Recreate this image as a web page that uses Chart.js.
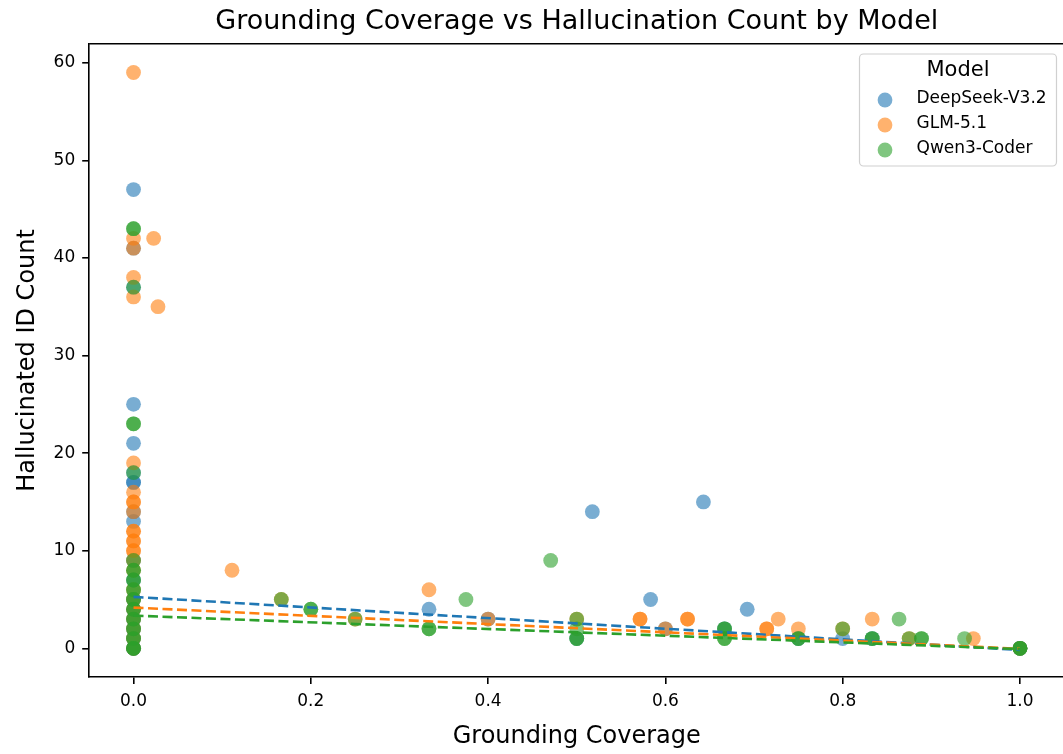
<!DOCTYPE html>
<html><head><meta charset="utf-8">
<script src="https://cdn.jsdelivr.net/npm/chart.js@4.4.1/dist/chart.umd.min.js"></script>
<style>
html,body{margin:0;padding:0;background:#fff;overflow:hidden;width:1063px;height:754px}
#wrap{position:absolute;left:0;top:0;width:1080px;height:754px}
</style>
</head><body>
<div id="wrap"><canvas id="c" width="1080" height="754"></canvas></div>
<script>
const chartTitle = 'Grounding Coverage vs Hallucination Count by Model';
const xAxisTitle = 'Grounding Coverage';
const yAxisTitle = 'Hallucinated ID Count';
const legendTitle = 'Model';
const modelNames = ['DeepSeek-V3.2', 'GLM-5.1', 'Qwen3-Coder'];
const xTickValues = [0, 0.2, 0.4, 0.6, 0.8, 1.0];
const yTickValues = [0, 10, 20, 30, 40, 50, 60];

// DeepSeek-V3.2
const deepseekX = [0,0,0,0,0,0,0,0,0,0,0,0,0,0,0,0,0,0,0,
  0.3333,0.4,0.5176,0.5833,0.6,0.6429,0.6923,0.8,1,1,0.6667,0.5,0.8333,0.75];
const deepseekY = [47,41,37,25,21,18,17,17,14,13,9,7,5,4,3,2,1,0,0,
  4,3,14,5,2,15,4,1,0,0,2,1,1,1];
// GLM-5.1
const glmX = [0,0,0,0,0,0,0,0,0,0,0,0,0,0,0,0,0,0,0,0,0,0,0,0,0,
  0.0227,0.0276,0.1111,0.1667,0.25,0.3333,0.4,0.5,0.5714,0.5714,0.6,0.625,0.625,0.7143,0.7143,0.7273,0.75,0.8,0.8333,0.875,0.9474,1];
const glmY = [59,42,41,38,36,19,16,15,15,14,12,12,11,11,10,10,9,8,6,5,4,3,2,1,0,
  42,35,8,5,3,6,3,3,3,3,2,3,3,2,2,3,2,2,3,1,1,0];
// Qwen3-Coder
const qwenX = [0,0,0,0,0,0,0,0,0,0,0,0,0,0,0,0,0,0,0,0,0,0,0,0,0,0,
  0.1667,0.2,0.2,0.25,0.3333,0.3333,0.375,0.4706,0.5,0.5,0.5,0.5,0.6667,0.6667,0.6667,0.6667,0.75,0.75,0.8,0.8333,0.8333,0.8636,0.875,0.8889,0.8889,0.9375,1,1,1];
const qwenY = [43,43,37,23,23,18,9,8,8,7,7,6,6,5,5,4,4,3,3,2,2,1,1,0,0,0,
  5,4,4,3,2,2,5,9,3,2,1,1,2,2,1,1,1,1,2,1,1,3,1,1,1,1,0,0,0];

// Trend lines (dashed), endpoints
const trendX = [0, 1];
const deepseekTrend = [5.27, -0.17];
const glmTrend = [4.17, -0.05];
const qwenTrend = [3.35, -0.08];

const solid = ['#1f77b4', '#ff7f0e', '#2ca02c'];
const faded = ['rgba(31,119,180,0.6)', 'rgba(255,127,14,0.6)', 'rgba(44,160,44,0.6)'];
const FONT = 'DejaVu Sans';

const pts = (xs, ys) => xs.map((x, i) => ({x: x, y: ys[i]}));

const scatterSet = (i, xs, ys, order) => ({
  type: 'scatter', label: modelNames[i], data: pts(xs, ys),
  backgroundColor: faded[i], borderWidth: 0, pointRadius: 7.4, pointHoverRadius: 7.4, order: order
});
const lineSet = (i, ys, order) => ({
  type: 'line', label: modelNames[i] + ' trend', data: pts(trendX, ys),
  borderColor: solid[i], borderWidth: 2.6, borderDash: [10, 4.5], pointRadius: 0,
  fill: false, order: order
});

const frame = {
  id: 'frame',
  afterDatasetsDraw(chart) {
    const {ctx, chartArea: a} = chart;
    ctx.save();
    ctx.strokeStyle = '#000'; ctx.lineWidth = 1.6;
    ctx.beginPath();
    ctx.moveTo(a.left, a.top); ctx.lineTo(a.right, a.top); ctx.lineTo(a.right, a.bottom);
    ctx.stroke();
    ctx.restore();
  }
};

const boxLegend = {
  id: 'boxLegend',
  afterDraw(chart) {
    const ctx = chart.ctx;
    const x0 = 859.5, y0 = 54, w = 197, h = 112, r = 4;
    ctx.save();
    ctx.beginPath();
    ctx.moveTo(x0 + r, y0); ctx.lineTo(x0 + w - r, y0); ctx.arcTo(x0 + w, y0, x0 + w, y0 + r, r);
    ctx.lineTo(x0 + w, y0 + h - r); ctx.arcTo(x0 + w, y0 + h, x0 + w - r, y0 + h, r);
    ctx.lineTo(x0 + r, y0 + h); ctx.arcTo(x0, y0 + h, x0, y0 + h - r, r);
    ctx.lineTo(x0, y0 + r); ctx.arcTo(x0, y0, x0 + r, y0, r);
    ctx.closePath();
    ctx.fillStyle = 'rgba(255,255,255,0.8)'; ctx.fill();
    ctx.strokeStyle = '#d0d0d0'; ctx.lineWidth = 1.2; ctx.stroke();
    ctx.fillStyle = '#000';
    ctx.textBaseline = 'middle';
    ctx.textAlign = 'center';
    ctx.font = '21px "' + FONT + '"';
    ctx.fillText(legendTitle, 958, 71);
    ctx.textAlign = 'left';
    ctx.font = '17px "' + FONT + '"';
    modelNames.forEach((name, i) => {
      const cy = 100 + i * 25;
      ctx.beginPath(); ctx.arc(885, cy, 7.4, 0, Math.PI * 2);
      ctx.fillStyle = faded[i]; ctx.fill();
      ctx.fillStyle = '#000';
      ctx.fillText(name, 916.5, cy - 1);
    });
    ctx.restore();
  }
};

const tickFont = {family: FONT, size: 17};

new Chart(document.getElementById('c'), {
  data: {
    datasets: [
      lineSet(2, qwenTrend, 1),
      lineSet(1, glmTrend, 2),
      lineSet(0, deepseekTrend, 3),
      scatterSet(2, qwenX, qwenY, 4),
      scatterSet(1, glmX, glmY, 5),
      scatterSet(0, deepseekX, deepseekY, 6)
    ]
  },
  options: {
    responsive: false, animation: false, devicePixelRatio: 1,
    layout: {padding: {left: 0, right: 15.7, top: 0, bottom: 0}},
    plugins: {
      legend: {display: false}, tooltip: {enabled: false},
      title: {display: true, fullSize: false, text: chartTitle, color: '#000',
        font: {family: FONT, size: 27, weight: 'normal'}, padding: {top: 5.5, bottom: 5.8}}
    },
    scales: {
      x: {
        type: 'linear', min: -0.05, max: 1.05,
        afterBuildTicks: s => { s.ticks = xTickValues.map(v => ({value: v})); },
        afterFit: s => { s.height = 76.9; },
        grid: {drawOnChartArea: false, drawTicks: true, tickLength: 7, color: '#000', lineWidth: 1.6},
        border: {display: true, color: '#000', width: 1.6},
        ticks: {font: tickFont, color: '#000', padding: 7, maxRotation: 0, autoSkip: false,
          callback: v => Number(v).toFixed(1)},
        title: {display: true, text: xAxisTitle, color: '#000', font: {family: FONT, size: 24}, padding: {top: 0, bottom: 2.6}}
      },
      y: {
        type: 'linear', min: -2.95, max: 61.95,
        afterBuildTicks: s => { s.ticks = yTickValues.map(v => ({value: v})); },
        afterFit: s => { s.width = 89.2; },
        grid: {drawOnChartArea: false, drawTicks: true, tickLength: 7, color: '#000', lineWidth: 1.6},
        border: {display: true, color: '#000', width: 1.6},
        ticks: {font: tickFont, color: '#000', padding: 7, autoSkip: false, callback: v => String(v)},
        title: {display: true, text: yAxisTitle, color: '#000', font: {family: FONT, size: 24}, padding: {top: 13.6, bottom: 0}}
      }
    }
  },
  plugins: [frame, boxLegend]
});
</script>
</body></html>
